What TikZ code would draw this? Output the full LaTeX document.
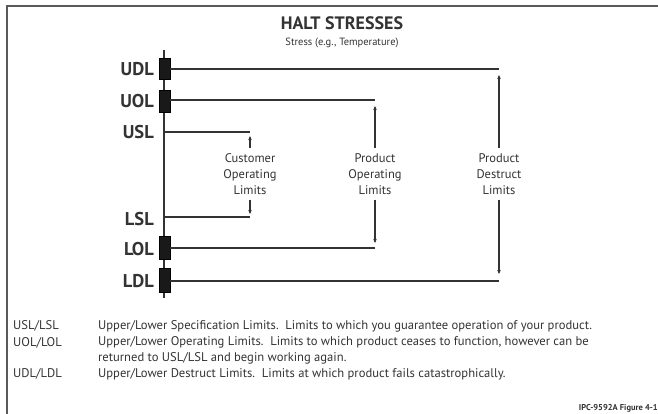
\documentclass[tikz,border=0pt]{standalone}
\usepackage{fontspec}
\setmainfont{PT Sans}
\usetikzlibrary{arrows.meta}
\definecolor{ink}{HTML}{333333}
\definecolor{framec}{HTML}{5A5A5A}
\begin{document}
\begin{tikzpicture}[x=1pt,y=-1pt,
  lim/.style={font=\fontsize{18.5}{20}\selectfont\bfseries,text=ink,anchor=east,inner sep=0pt},
  limbox/.style={draw=black,fill=black!90,minimum width=11pt,inner sep=0pt},
  hline/.style={draw=ink,line width=1.4pt},
  axisline/.style={draw=ink,line width=1.6pt},
  arr/.style={draw=ink,line width=1.2pt,-{Stealth[length=4pt,width=3.5pt]}},
  midlabel/.style={font=\fontsize{12.5}{16}\selectfont,text=ink,align=center,inner xsep=0pt,inner ysep=5pt},
  legk/.style={font=\fontsize{12.6}{16}\selectfont,text=ink,anchor=base west,inner sep=0pt},
  legd/.style={font=\fontsize{12.6}{16}\selectfont,text=ink,anchor=base west,inner sep=0pt,align=left}]
\useasboundingbox (0,0) rectangle (658,414);
% frame
\draw[framec,line width=2pt] (7,414) -- (7,6) -- (660,6);
% title
\node[font=\fontsize{18}{20}\selectfont\bfseries,text=ink] (title) at (342,23) {HALT STRESSES};
\node[font=\fontsize{10.5}{12}\selectfont,text=ink] (sub) at (342,43) {Stress (e.g., Temperature)};
% axis
\coordinate (atop) at (164,50);
\coordinate (abot) at (164,298);
\draw[axisline] (atop) -- (abot);
% boxes
\node[limbox,minimum height=21pt] (udlb) at (164.5,68.5) {};
\node[limbox,minimum height=22pt] (uolb) at (164.5,101) {};
\node[limbox,minimum height=23pt] (lolb) at (164.5,247.5) {};
\node[limbox,minimum height=24pt] (ldlb) at (164.5,280) {};
% labels
\node[lim] (udl) at (154,69) {UDL};
\node[lim] (uol) at (154,101) {UOL};
\node[lim] (usl) at (154,132) {USL};
\node[lim] (lsl) at (154,219) {LSL};
\node[lim] (lol) at (154,249) {LOL};
\node[lim] (ldl) at (154,281) {LDL};
% line ends
\coordinate (udle) at (499,69);
\coordinate (uole) at (375,100);
\coordinate (usls) at (164,132);
\coordinate (usle) at (250,132);
\coordinate (lsls) at (164,217);
\coordinate (lsle) at (250,217);
\coordinate (lole) at (375,248);
\coordinate (ldle) at (499,281);
\draw[hline] (udlb.east |- udle) -- (udle);
\draw[hline] (uolb.east |- uole) -- (uole);
\draw[hline] (usls) -- (usle);
\draw[hline] (lsls) -- (lsle);
\draw[hline] (lolb.east |- lole) -- (lole);
\draw[hline] (ldlb.east |- ldle) -- (ldle);
% middle labels
\node[midlabel] (col) at (250,174) {Customer\\Operating\\Limits};
\node[midlabel] (pol) at (375,174) {Product\\Operating\\Limits};
\node[midlabel] (pdl) at (499,174) {Product\\Destruct\\Limits};
\coordinate (colu) at (250,136);
\coordinate (cold) at (250,214);
\coordinate (polu) at (375,106);
\coordinate (pold) at (375,243);
\coordinate (pdlu) at (499,75);
\coordinate (pdld) at (499,274);
\draw[arr] (col.north) -- (colu);
\draw[arr] (col.south) -- (cold);
\draw[arr] (pol.north) -- (polu);
\draw[arr] (pol.south) -- (pold);
\draw[arr] (pdl.north) -- (pdlu);
\draw[arr] (pdl.south) -- (pdld);
% legend
\node[legk] (k1) at (13,329) {USL/LSL};
\node[legk] (k2) at (13,346) {UOL/LOL};
\node[legk] (k3) at (13,377) {UDL/LDL};
\node[legd] (d1) at (98,329) {Upper/Lower Specification Limits.\ \ Limits to which you guarantee operation of your product.};
\node[legd] (d2) at (98,361) {Upper/Lower Operating Limits.\ \ Limits to which product ceases to function, however can be\\returned to USL/LSL and begin working again.};
\node[legd] (d3) at (98,377) {Upper/Lower Destruct Limits.\ \ Limits at which product fails catastrophically.};
\node[font=\fontsize{8.5}{9}\selectfont\bfseries,text=ink,anchor=base east,inner sep=0pt] (fig) at (658,410) {IPC-9592A Figure 4-1};
\end{tikzpicture}
\end{document}
